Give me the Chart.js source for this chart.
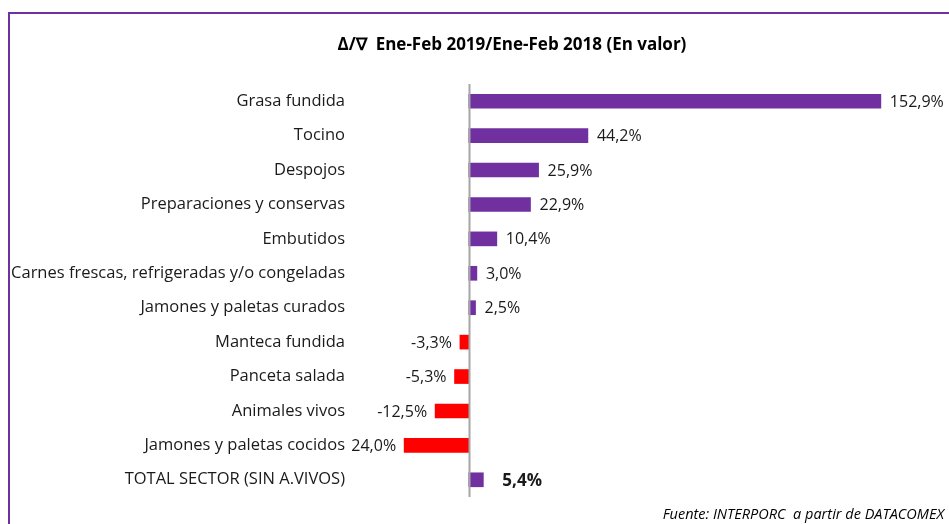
<!DOCTYPE html>
<html>
<head>
<meta charset="utf-8">
<script src="https://cdn.jsdelivr.net/npm/chart.js@4/dist/chart.umd.min.js"></script>
<style>
  html, body { margin: 0; padding: 0; background: #fff; }
  #wrap { width: 949px; height: 524px; position: relative; }
</style>
</head>
<body>
<div id="wrap"><canvas id="bar-chart" width="949" height="524"></canvas></div>
<script>
// data
var categories = ['Grasa fundida', 'Tocino', 'Despojos', 'Preparaciones y conservas', 'Embutidos',
  'Carnes frescas, refrigeradas y/o congeladas', 'Jamones y paletas curados', 'Manteca fundida',
  'Panceta salada', 'Animales vivos', 'Jamones y paletas cocidos', 'TOTAL SECTOR (SIN A.VIVOS)'];
var values = [152.9, 44.2, 25.9, 22.9, 10.4, 3.0, 2.5, -3.3, -5.3, -12.5, -24.0, 5.4];
var valueLabels = ['152,9%', '44,2%', '25,9%', '22,9%', '10,4%', '3,0%', '2,5%', '-3,3%', '-5,3%', '-12,5%', '24,0%', '5,4%'];

var titleText = '\u0394/\u2207  Ene-Feb 2019/Ene-Feb 2018 (En valor)';
var sourceText = 'Fuente: INTERPORC  a partir de DATACOMEX';

var FONT = '"Open Sans", Lato, sans-serif';
var PURPLE = '#7030A0';
var RED = '#FF0000';

// extra drawing: frame, title, zero line, value labels, source
var decorPlugin = {
  id: 'decor',
  afterDraw: function (chart) {
    var ctx = chart.ctx;
    var xs = chart.scales.x;
    var area = chart.chartArea;
    ctx.save();

    // frame (left + top only are visible)
    ctx.strokeStyle = PURPLE;
    ctx.lineWidth = 2;
    ctx.beginPath();
    ctx.moveTo(9, 524);
    ctx.lineTo(9, 13);
    ctx.lineTo(949, 13);
    ctx.stroke();

    // title
    ctx.fillStyle = '#000';
    ctx.font = 'bold 17px ' + FONT;
    ctx.textAlign = 'center';
    ctx.textBaseline = 'middle';
    ctx.fillText(titleText, 512, 45);

    // zero line
    var x0 = Math.round(xs.getPixelForValue(0)) + 0.5;
    ctx.strokeStyle = '#A6A6A6';
    ctx.lineWidth = 2;
    ctx.beginPath();
    ctx.moveTo(x0, area.top);
    ctx.lineTo(x0, area.bottom);
    ctx.stroke();

    // value labels
    var meta = chart.getDatasetMeta(0);
    meta.data.forEach(function (bar, i) {
      var last = i === values.length - 1;
      ctx.font = (last ? 'bold 17px ' : '16px ') + FONT;
      ctx.fillStyle = '#1a1a1a';
      if (values[i] >= 0) {
        ctx.textAlign = 'left';
        ctx.fillText(valueLabels[i], bar.x + (last ? 19 : 9), bar.y + 1);
      } else {
        ctx.textAlign = 'right';
        ctx.fillText(valueLabels[i], bar.x - 8, bar.y + 1);
      }
    });

    // source
    ctx.font = 'italic 14.5px ' + FONT;
    ctx.fillStyle = '#000';
    ctx.textAlign = 'right';
    ctx.fillText(sourceText, 944, 515);

    ctx.restore();
  }
};

new Chart(document.getElementById('bar-chart'), {
  type: 'bar',
  data: {
    labels: categories,
    datasets: [{
      data: values,
      backgroundColor: values.map(function (v) { return v < 0 ? RED : PURPLE; }),
      barThickness: 14
    }]
  },
  options: {
    indexAxis: 'y',
    responsive: false,
    animation: false,
    layout: { padding: { top: 84, bottom: 27, left: 0, right: 49 } },
    plugins: {
      legend: { display: false },
      tooltip: { enabled: false },
      title: { display: false }
    },
    scales: {
      x: {
        display: false,
        min: -40,
        max: 160
      },
      y: {
        grid: { display: false, drawTicks: false },
        border: { display: false },
        ticks: {
          color: '#1a1a1a',
          padding: 16,
          font: { family: FONT, size: 16.5 }
        },
        afterFit: function (scale) { scale.width = 361; }
      }
    }
  },
  plugins: [decorPlugin]
});
</script>
</body>
</html>
